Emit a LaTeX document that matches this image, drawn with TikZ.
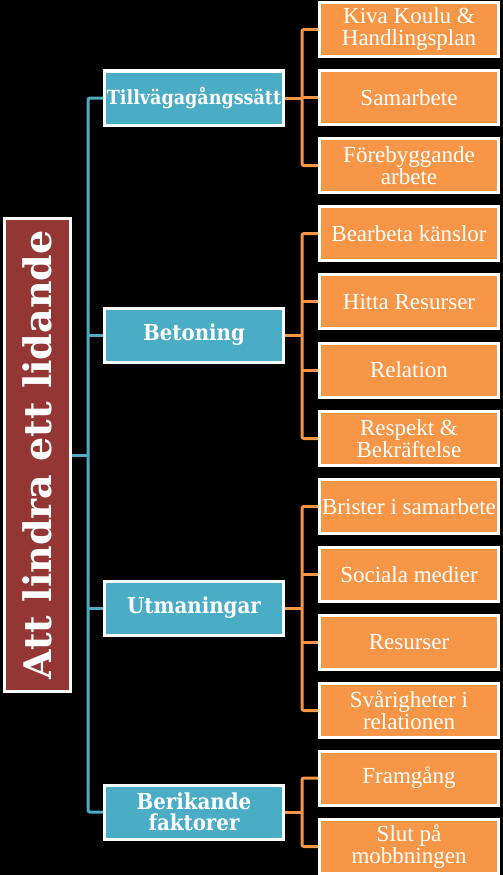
\documentclass[tikz,border=0pt]{standalone}
\usepackage{fontspec}
\setmainfont{Liberation Serif}
\newfontfamily\headfont{DejaVu Serif}
\newfontfamily\catfont{DejaVu Serif Condensed}
\usetikzlibrary{positioning,calc}
\definecolor{rootred}{RGB}{148,54,52}
\definecolor{catblue}{RGB}{75,172,198}
\definecolor{itemorange}{RGB}{247,150,70}

\begin{document}
\begin{tikzpicture}[
  x=1pt, y=-1pt,
  box/.style={draw=white, line width=3pt, align=center, text=white,
              minimum width=179pt, minimum height=54pt, inner sep=0pt},
  catbox/.style={box, fill=catblue, font=\catfont\bfseries\fontsize{22}{21}\selectfont},
  itembox/.style={box, fill=itemorange, font=\fontsize{23}{22}\selectfont},
  rootbox/.style={draw=white, line width=3pt, fill=rootred, text=white,
              minimum width=473pt, minimum height=66pt, rotate=90,
              font=\headfont\bfseries\fontsize{38}{40}\selectfont},
  bline/.style={catblue, line width=3pt, rounded corners=2pt},
  oline/.style={itemorange, line width=3pt, rounded corners=2pt}
]
\fill[black] (0,0) rectangle (503,875);
\useasboundingbox (0,0) rectangle (503,875);

% root
\node[rootbox] (root) at (37.5,455) {Att lindra ett lidande};

% categories
\node[catbox, font=\catfont\bfseries\fontsize{19.5}{21}\selectfont] (tv) at (194,98) {Tillvägagångssätt};
\node[catbox] (be) at (194,335) {Betoning};
\node[catbox] (ut) at (194,608) {Utmaningar};
\node[catbox] (bf) at (194,812) {Berikande\\faktorer};

% items
\node[itembox] (kiva) at (409,29.5)  {Kiva Koulu \&\\Handlingsplan};
\node[itembox] (sam)  at (409,97.5)  {Samarbete};
\node[itembox] (forb) at (409,165.5) {Förebyggande\\arbete};
\node[itembox] (bear) at (409,233.5) {Bearbeta känslor};
\node[itembox] (hitt) at (409,301.5) {Hitta Resurser};
\node[itembox] (rel)  at (409,370)   {Relation};
\node[itembox] (resp) at (409,438.5) {Respekt \&\\Bekräftelse};
\node[itembox] (bris) at (409,506.5) {Brister i samarbete};
\node[itembox] (soc)  at (409,574.5) {Sociala medier};
\node[itembox] (res)  at (409,642.5) {Resurser};
\node[itembox] (svar) at (409,710.5) {Svårigheter i\\relationen};
\node[itembox] (fram) at (409,778)   {Framgång};
\node[itembox] (slut) at (409,846.5) {Slut på\\mobbningen};

\coordinate (spine) at (88,0);
\coordinate (ospine) at (302,0);

% blue connectors
\draw[bline] (root.south) -- (root.south -| spine);
\draw[bline] (tv.west) -- (tv.west -| spine) -- (bf.west -| spine) -- (bf.west);
\foreach \c in {be,ut}
  \draw[bline] (\c.west -| spine) -- (\c.west);

% orange connectors
\foreach \c/\first/\last in {tv/kiva/forb, be/bear/resp, ut/bris/svar, bf/fram/slut} {
  \draw[oline] (\c.east) -- (\c.east -| ospine);
  \draw[oline] (\first.west) -- (\first.west -| ospine) -- (\last.west -| ospine) -- (\last.west);
}
\foreach \m in {sam,hitt,rel,soc,res}
  \draw[oline] (\m.west -| ospine) -- (\m.west);
\end{tikzpicture}
\end{document}
